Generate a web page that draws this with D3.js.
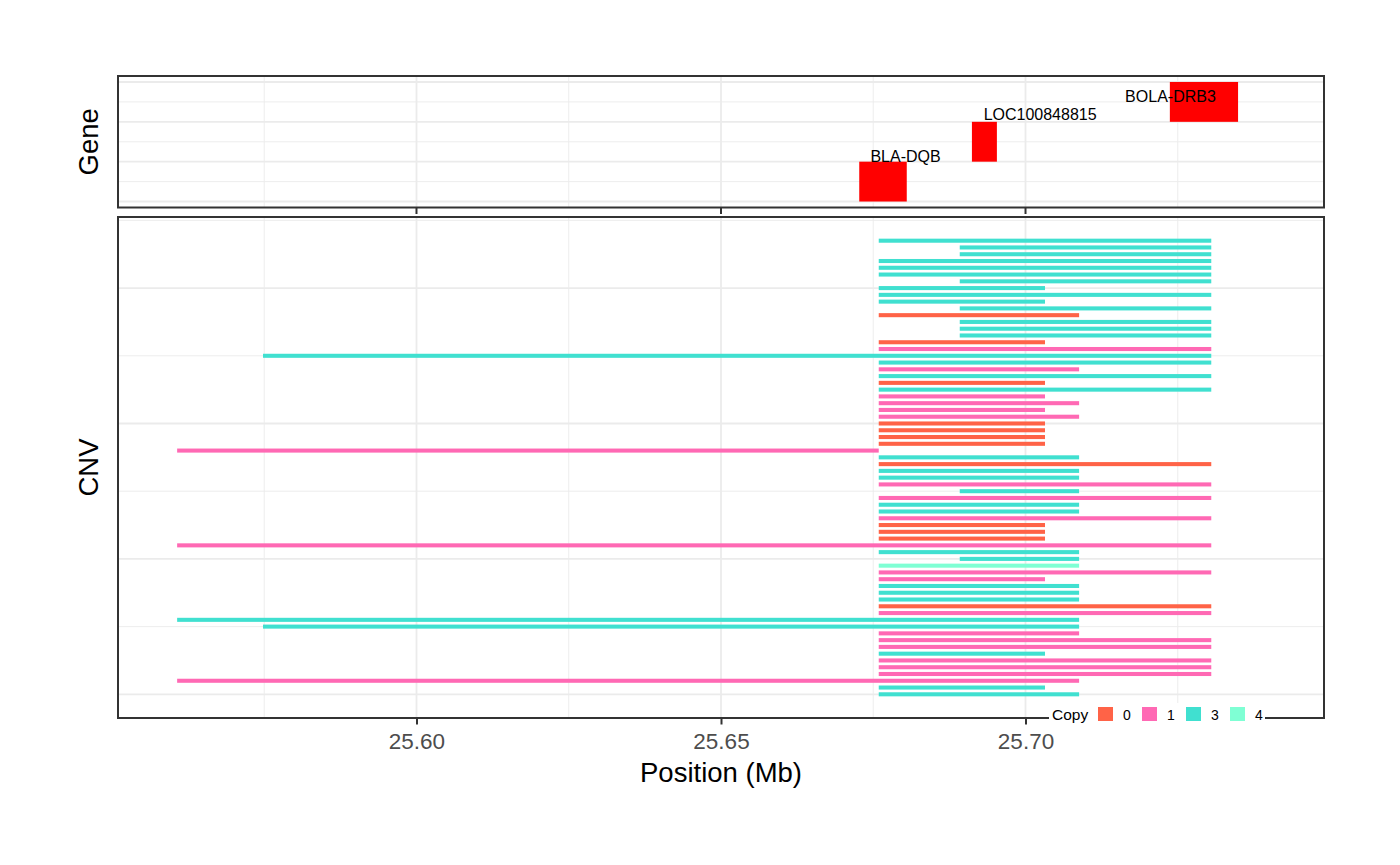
<!DOCTYPE html>
<html>
<head>
<meta charset="utf-8">
<script src="https://cdn.jsdelivr.net/npm/d3@7"></script>
<style>
  html, body { margin: 0; padding: 0; background: #fff; }
  svg { display: block; font-family: "Liberation Sans", Arial, sans-serif; }
</style>
</head>
<body>
<svg id="chart" width="1400" height="865"></svg>
<script>
// ---------------- data ----------------
const xMajorTicks = [25.60, 25.65, 25.70];
const xMinorTicks = [25.575, 25.625, 25.675, 25.725];
const xTickLabels = ["25.60", "25.65", "25.70"];

const geneNames  = ["BLA-DQB", "LOC100848815", "BOLA-DRB3"];
const geneStart  = [25.6727, 25.6912, 25.7237];
const geneEnd    = [25.6805, 25.6953, 25.7349];
const geneLevel  = [0, 1, 2];
const geneLabelX = [25.6803, 25.7024, 25.7238];
const geneLabelY = [1.0, 2.05, 2.5];

// CNV segments, listed from top row to bottom row
const cnvStart = [
  25.6759, 25.6892, 25.6892, 25.6759, 25.6759, 25.6759, 25.6892, 25.6759, 25.6759, 25.6759,
  25.6892, 25.6759, 25.6892, 25.6892, 25.6892, 25.6759, 25.6759, 25.5748, 25.6759, 25.6759,
  25.6759, 25.6759, 25.6759, 25.6759, 25.6759, 25.6759, 25.6759, 25.6759, 25.6759, 25.6759,
  25.6759, 25.5607, 25.6759, 25.6759, 25.6759, 25.6759, 25.6759, 25.6892, 25.6759, 25.6759,
  25.6759, 25.6759, 25.6759, 25.6759, 25.6759, 25.5607, 25.6759, 25.6892, 25.6759, 25.6759,
  25.6759, 25.6759, 25.6759, 25.6759, 25.6759, 25.6759, 25.5607, 25.5748, 25.6759, 25.6759,
  25.6759, 25.6759, 25.6759, 25.6759, 25.6759, 25.5607, 25.6759, 25.6759
];
const cnvEnd = [
  25.7305, 25.7305, 25.7305, 25.7305, 25.7305, 25.7305, 25.7305, 25.7032, 25.7305, 25.7032,
  25.7305, 25.7088, 25.7305, 25.7305, 25.7305, 25.7032, 25.7305, 25.7305, 25.7305, 25.7088,
  25.7305, 25.7032, 25.7305, 25.7032, 25.7088, 25.7032, 25.7088, 25.7032, 25.7032, 25.7032,
  25.7032, 25.6759, 25.7088, 25.7305, 25.7088, 25.7088, 25.7305, 25.7088, 25.7305, 25.7088,
  25.7088, 25.7305, 25.7032, 25.7032, 25.7032, 25.7305, 25.7088, 25.7088, 25.7088, 25.7305,
  25.7032, 25.7088, 25.7088, 25.7088, 25.7305, 25.7305, 25.7088, 25.7088, 25.7088, 25.7305,
  25.7305, 25.7032, 25.7305, 25.7305, 25.7305, 25.7088, 25.7032, 25.7088
];
const cnvCopy = [
  3, 3, 3, 3, 3, 3, 3, 3, 3, 3,
  3, 0, 3, 3, 3, 0, 1, 3, 3, 1,
  3, 0, 3, 1, 1, 1, 1, 0, 0, 0,
  0, 1, 3, 0, 3, 3, 1, 3, 1, 3,
  3, 1, 0, 0, 0, 1, 3, 3, 4, 1,
  1, 3, 3, 3, 0, 1, 3, 3, 1, 1,
  1, 3, 1, 1, 1, 1, 3, 3
];

const copyLevels = ["0", "1", "3", "4"];
const copyColors = ["#FF6347", "#FF69B4", "#40E0D0", "#7FFFD4"];

const cnvMajorY = [0, 20, 40, 60];
const cnvMinorY = [10, 30, 50, 70];
const geneMajorY = [0, 1, 2, 3];
const geneMinorY = [0.5, 1.5, 2.5];

// ---------------- layout ----------------
const svg = d3.select("#chart");
const left = 118, right = 1324;
const geneTop = 76, geneBottom = 207.5;
const cnvTop = 217, cnvBottom = 718;

const x = d3.scaleLinear().domain([25.55099, 25.74901]).range([left, right]);
const yGene = d3.scaleLinear().domain([-0.15, 3.15]).range([geneBottom, geneTop]);
const nRows = cnvCopy.length;
const yCnv = d3.scaleLinear().domain([-3.5, 70.5]).range([cnvBottom, cnvTop]);
const color = d3.scaleOrdinal().domain(copyLevels).range(copyColors);

const gridCol = "#EBEBEB";
const borderCol = "#333333";

function drawGrid(g, yScale, majorY, minorY, top, bottom) {
  g.selectAll("line.a").data(xMinorTicks).join("line").attr("class", "a")
    .attr("x1", d => x(d)).attr("x2", d => x(d)).attr("y1", top).attr("y2", bottom)
    .attr("stroke", gridCol).attr("stroke-width", 0.9);
  g.selectAll("line.b").data(minorY).join("line").attr("class", "b")
    .attr("x1", left).attr("x2", right).attr("y1", d => yScale(d)).attr("y2", d => yScale(d))
    .attr("stroke", gridCol).attr("stroke-width", 0.9);
  g.selectAll("line.c").data(xMajorTicks).join("line").attr("class", "c")
    .attr("x1", d => x(d)).attr("x2", d => x(d)).attr("y1", top).attr("y2", bottom)
    .attr("stroke", gridCol).attr("stroke-width", 1.8);
  g.selectAll("line.d").data(majorY).join("line").attr("class", "d")
    .attr("x1", left).attr("x2", right).attr("y1", d => yScale(d)).attr("y2", d => yScale(d))
    .attr("stroke", gridCol).attr("stroke-width", 1.8);
}

// ---- Gene panel ----
const gGene = svg.append("g");
gGene.append("rect").attr("x", left).attr("y", geneTop).attr("width", right - left)
  .attr("height", geneBottom - geneTop).attr("fill", "#fff");
drawGrid(gGene.append("g"), yGene, geneMajorY, geneMinorY, geneTop, geneBottom);

const genes = geneNames.map((n, i) => ({name: n, s: geneStart[i], e: geneEnd[i], lv: geneLevel[i], lx: geneLabelX[i], ly: geneLabelY[i]}));
gGene.selectAll("rect.gene").data(genes).join("rect").attr("class", "gene")
  .attr("x", d => x(d.s)).attr("width", d => x(d.e) - x(d.s))
  .attr("y", d => yGene(d.lv + 1)).attr("height", d => yGene(d.lv) - yGene(d.lv + 1))
  .attr("fill", "#FF0000");
gGene.selectAll("text.gl").data(genes).join("text").attr("class", "gl")
  .attr("x", d => x(d.lx)).attr("y", d => yGene(d.ly))
  .attr("text-anchor", "middle").attr("font-size", 16).attr("fill", "#000")
  .text(d => d.name);

gGene.append("rect").attr("x", left).attr("y", geneTop).attr("width", right - left)
  .attr("height", geneBottom - geneTop).attr("fill", "none")
  .attr("stroke", borderCol).attr("stroke-width", 2);
// ticks under gene panel (no labels)
gGene.selectAll("line.tk").data(xMajorTicks).join("line").attr("class", "tk")
  .attr("x1", d => x(d)).attr("x2", d => x(d)).attr("y1", geneBottom).attr("y2", geneBottom + 6.5)
  .attr("stroke", borderCol).attr("stroke-width", 2);

// ---- CNV panel ----
const gCnv = svg.append("g");
gCnv.append("rect").attr("x", left).attr("y", cnvTop).attr("width", right - left)
  .attr("height", cnvBottom - cnvTop).attr("fill", "#fff");
drawGrid(gCnv.append("g"), yCnv, cnvMajorY, cnvMinorY, cnvTop, cnvBottom);

const segs = cnvCopy.map((c, i) => ({s: cnvStart[i], e: cnvEnd[i], c: String(c), row: nRows - 1 - i}));
const halfH = 0.3;
gCnv.selectAll("rect.seg").data(segs).join("rect").attr("class", "seg")
  .attr("x", d => x(d.s)).attr("width", d => x(d.e) - x(d.s))
  .attr("y", d => yCnv(d.row + halfH)).attr("height", d => yCnv(d.row - halfH) - yCnv(d.row + halfH))
  .attr("fill", d => color(d.c));

gCnv.append("rect").attr("x", left).attr("y", cnvTop).attr("width", right - left)
  .attr("height", cnvBottom - cnvTop).attr("fill", "none")
  .attr("stroke", borderCol).attr("stroke-width", 2);

// x axis
const xAxis = d3.axisBottom(x).tickValues(xMajorTicks).tickSize(6.5).tickPadding(5)
  .tickFormat((d, i) => xTickLabels[i]);
const gAx = svg.append("g").attr("transform", `translate(0,${cnvBottom})`).call(xAxis);
gAx.select(".domain").remove();
gAx.selectAll(".tick line").attr("stroke", borderCol).attr("stroke-width", 2);
gAx.selectAll(".tick text").attr("font-size", 22.5).attr("fill", "#4D4D4D")
  .attr("font-family", "Liberation Sans, Arial, sans-serif").attr("dy", null).attr("y", 31);

// titles
svg.append("text").attr("x", (left + right) / 2).attr("y", 782)
  .attr("text-anchor", "middle").attr("font-size", 27.5).attr("fill", "#000").text("Position (Mb)");
svg.append("text").attr("transform", `translate(97.5,${(geneTop + geneBottom) / 2}) rotate(-90)`)
  .attr("text-anchor", "middle").attr("font-size", 27.5).attr("fill", "#000").text("Gene");
svg.append("text").attr("transform", `translate(97.5,${(cnvTop + cnvBottom) / 2}) rotate(-90)`)
  .attr("text-anchor", "middle").attr("font-size", 27.5).attr("fill", "#000").text("CNV");

// legend (inside, bottom right, overlapping panel border)
const lg = svg.append("g");
lg.append("rect").attr("x", 1049).attr("y", 703).attr("width", 216).attr("height", 24).attr("fill", "#fff");
lg.append("text").attr("x", 1052).attr("y", 719.5).attr("font-size", 15.5).attr("fill", "#000").text("Copy");
const keyX = [1098, 1142, 1186, 1230];
lg.selectAll("rect.k").data(copyLevels).join("rect").attr("class", "k")
  .attr("x", (d, i) => keyX[i]).attr("y", 707).attr("width", 15).attr("height", 14)
  .attr("fill", d => color(d));
lg.selectAll("text.kl").data(copyLevels).join("text").attr("class", "kl")
  .attr("x", (d, i) => keyX[i] + 25).attr("y", 719.5).attr("font-size", 14).attr("fill", "#000")
  .text(d => d);
</script>
</body>
</html>
